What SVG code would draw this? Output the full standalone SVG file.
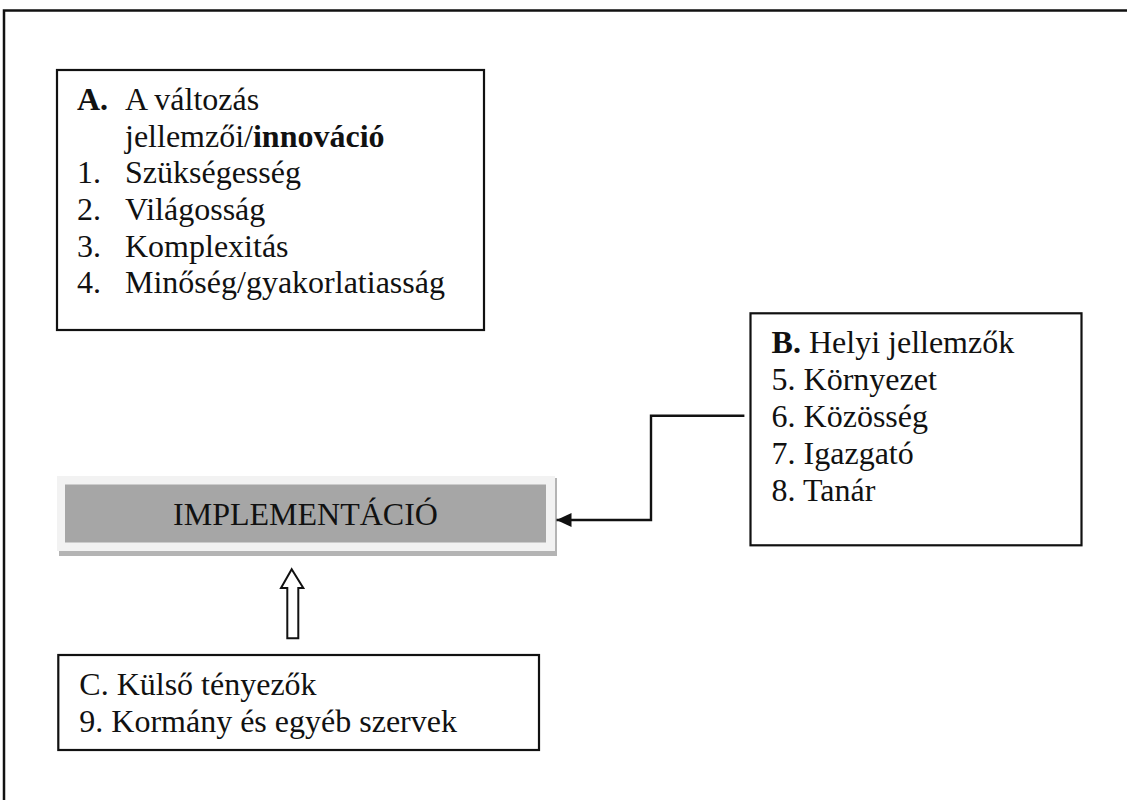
<svg xmlns="http://www.w3.org/2000/svg" width="1127" height="800" viewBox="0 0 1127 800">
<style>
.box{fill:#fff;stroke:#111;stroke-width:2.2}
.t{font-family:"Liberation Serif","Times New Roman",serif;font-size:32px;fill:#111}
.b{font-weight:bold}
.line{fill:none;stroke:#111;stroke-width:2.4}
</style>
<defs>
<marker id="ah" markerWidth="15" markerHeight="14" refX="15" refY="7" orient="auto" markerUnits="userSpaceOnUse">
<path d="M0,0 L15,7 L0,14 Z" fill="#111"/>
</marker>
</defs>
<rect width="1127" height="800" fill="#fff"/>
<g id="frame">
<path d="M4,800 V10.5 H1127" fill="none" stroke="#111" stroke-width="2.5"/>
</g>
<g id="nodeA">
<rect class="box" x="57" y="70" width="427" height="260"/>
<text class="t" y="110"><tspan x="77" class="b">A.</tspan><tspan x="125">A változás</tspan></text>
<text class="t" x="125" y="146.7">jellemzői/<tspan class="b">innováció</tspan></text>
<text class="t" y="183.3"><tspan x="77">1.</tspan><tspan x="125">Szükségesség</tspan></text>
<text class="t" y="220"><tspan x="77">2.</tspan><tspan x="125">Világosság</tspan></text>
<text class="t" y="256.7"><tspan x="77">3.</tspan><tspan x="125">Komplexitás</tspan></text>
<text class="t" y="293.3"><tspan x="77">4.</tspan><tspan x="125">Minőség/gyakorlatiasság</tspan></text>
</g>
<g id="nodeB">
<rect class="box" x="750.5" y="313.3" width="331" height="232"/>
<text class="t" x="771.6" y="353"><tspan class="b">B.</tspan> Helyi jellemzők</text>
<text class="t" x="771.6" y="390">5. Környezet</text>
<text class="t" x="771.6" y="427">6. Közösség</text>
<text class="t" x="771.6" y="464">7. Igazgató</text>
<text class="t" x="771.6" y="501">8. Tanár</text>
</g>
<g id="nodeImpl">
<rect x="59" y="478" width="498" height="78" fill="#b4b4b4"/>
<rect x="57" y="476" width="498" height="75" fill="#f2f2f2"/>
<rect x="65" y="484.5" width="481" height="58" fill="#a6a6a6"/>
<text class="t" x="305.5" y="525" text-anchor="middle">IMPLEMENTÁCIÓ</text>
</g>
<g id="nodeC">
<rect class="box" x="58.3" y="655" width="480.7" height="95"/>
<text class="t" x="79.3" y="695">C. Külső tényezők</text>
<text class="t" x="79.3" y="731.7">9. Kormány és egyéb szervek</text>
</g>
<g id="connectors">
<path class="line" d="M744.4,415.7 H651 V520 H556.5" marker-end="url(#ah)"/>
<path d="M291.7,569.3 L303.3,588 H298.3 V638.3 H287.3 V588 H281 Z" fill="#fff" stroke="#111" stroke-width="2"/>
</g>
</svg>
